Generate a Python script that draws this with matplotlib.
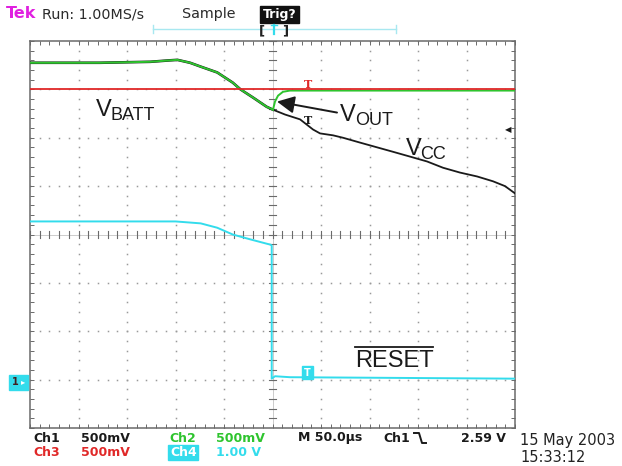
import matplotlib
matplotlib.use("Agg")
import matplotlib.pyplot as plt
import numpy as np
from matplotlib.lines import Line2D
from matplotlib.patches import Rectangle

# ---------------- data (time in µs, amplitude in screen divisions) -------------
t_pre = [-250, -178, -126, -106, -98, -85, -74, -57, -41, -33, -20, -6, 0.5]
v_pre = [3.55, 3.55, 3.57, 3.60, 3.61, 3.55, 3.47, 3.35, 3.14, 3.00, 2.83, 2.64, 2.58]

t_vcc = [0.5, 12.9, 28.4, 41.8, 49.0, 62.4, 72.7, 90.2, 124.2, 141.8, 159.3, 175.8,
         193.3, 210.9, 227.3, 239.7, 250]
v_vcc = [2.58, 2.48, 2.38, 2.17, 2.09, 2.05, 2.00, 1.90, 1.71, 1.61, 1.51, 1.38,
         1.28, 1.20, 1.10, 1.00, 0.85]

t_vout = [0.5, 2.6, 5.7, 10.8, 18, 250]
v_vout = [2.58, 2.75, 2.87, 2.95, 2.975, 2.975]

t_batt = [-250, 250]
v_batt = [3.0, 3.0]

t_reset = [-250, -100, -74, -57, -41, -23, -6, -2.0, -0.8, -0.8, 2.6, 18, 250]
v_reset = [0.27, 0.27, 0.23, 0.14, 0.0, -0.10, -0.19, -0.21, -0.23, -2.98, -2.93, -2.95, -2.98]

header_texts = ["Tek", "Run: 1.00MS/s", "Sample", "Trig?"]
ch_labels = ["Ch1", "Ch2", "Ch3", "Ch4"]
ch_scales = ["500mV", "500mV", "500mV", "1.00 V"]
timebase = "M 50.0\u00b5s"
trig_src = "Ch1"
trig_level = "2.59 V"
date_str = "15 May 2003"
time_str = "15:33:12"

C_GREEN = "#2ec42e"
C_RED = "#e02828"
C_CYAN = "#33dcec"
C_BLACK = "#1a1a1a"
C_FRAME = "#6a6a6a"

W, H = 622, 466
fig = plt.figure(figsize=(W / 100, H / 100), dpi=100)
fig.patch.set_facecolor("white")

L, R, T, B = 30, 515, 41, 428
ax = fig.add_axes([L / W, 1 - B / H, (R - L) / W, (B - T) / H])
ax.set_xlim(-250, 250)
ax.set_ylim(-4, 4)

def fx(x):
    return x / W

def fy(y):
    return 1 - y / H

# ---------------- graticule ----------------
for s in ax.spines.values():
    s.set_color(C_FRAME)
    s.set_linewidth(1.1)
ax.set_xticks(np.arange(-250, 251, 50))
ax.set_yticks(np.arange(-4, 4.01, 1))
ax.set_xticks(np.arange(-250, 251, 10), minor=True)
ax.set_yticks(np.arange(-4, 4.01, 0.2), minor=True)
ax.tick_params(which="both", direction="in", top=True, right=True,
               labelbottom=False, labelleft=False, length=3.2, width=0.7,
               color=C_FRAME)

minor_x = np.arange(-250, 251, 10)
minor_y = np.arange(-4, 4.01, 0.2)
for xv in np.arange(-200, 201, 50):
    if xv == 0:
        continue
    ax.plot(np.full_like(minor_y, xv), minor_y, ls="none", marker="s",
            ms=1.1, color="#9a9a9a", mec="none", zorder=1)
for yv in np.arange(-3, 3.01, 1):
    if yv == 0:
        continue
    ax.plot(minor_x, np.full_like(minor_x, yv, dtype=float), ls="none", marker="s",
            ms=1.1, color="#9a9a9a", mec="none", zorder=1)

# centre cross
ax.axhline(0, color="#b8b8b8", lw=0.5, zorder=1)
ax.axvline(0, color="#b8b8b8", lw=0.5, zorder=1)
for xv in minor_x:
    ax.plot([xv, xv], [-0.07, 0.07], color="#6a6a6a", lw=0.8, zorder=1)
for yv in minor_y:
    ax.plot([-3.6, 3.6], [yv, yv], color="#6a6a6a", lw=0.8, zorder=1)

# ---------------- traces ----------------
ax.plot(t_reset, v_reset, color=C_CYAN, lw=1.4, zorder=3)
ax.plot(t_pre, v_pre, color=C_BLACK, lw=1.9, zorder=3)
ax.plot(t_pre, v_pre, color=C_GREEN, lw=1.4, zorder=4)
ax.plot(t_vcc, v_vcc, color=C_BLACK, lw=1.3, zorder=3)
ax.plot(t_vout, v_vout, color=C_GREEN, lw=1.4, zorder=4)
ax.plot(t_batt, v_batt, color=C_RED, lw=1.3, zorder=5)

# waveform markers
fig.text(fx(308), fy(85), "T", color=C_RED, fontsize=8, fontweight="bold",
         ha="center", va="center", family="DejaVu Serif")
fig.text(fx(308), fy(121), "T", color=C_BLACK, fontsize=8, fontweight="bold",
         ha="center", va="center", family="DejaVu Serif")
fig.patches.append(Rectangle((fx(302), fy(379)), 11 / W, 13 / H, transform=fig.transFigure,
                             color=C_CYAN, zorder=6))
fig.text(fx(307.5), fy(372.5), "T", color="white", fontsize=7, fontweight="bold",
         ha="center", va="center", zorder=7)

# trigger level marker (right edge)
fig.text(fx(508), fy(130), "\u25c0", color=C_BLACK, fontsize=6, ha="center", va="center")

# Ch4 ground marker (left)
fig.patches.append(Rectangle((fx(9), fy(390)), 19 / W, 15 / H, transform=fig.transFigure,
                             color=C_CYAN, zorder=6))
fig.text(fx(15), fy(382), "1", color="#402020", fontsize=7, fontweight="bold",
         ha="center", va="center", zorder=7)
fig.text(fx(23), fy(382), "\u25b8", color="white", fontsize=6,
         ha="center", va="center", zorder=7)

# ---------------- annotations ----------------
lab = dict(family="Liberation Sans", color=C_BLACK)
fig.text(fx(96), fy(116), "V", fontsize=17, va="baseline", **lab)
fig.text(fx(110), fy(120), "BATT", fontsize=13, va="baseline", **lab)
fig.text(fx(340), fy(121), "V", fontsize=17, va="baseline", **lab)
fig.text(fx(355), fy(125), "OUT", fontsize=13, va="baseline", **lab)
fig.text(fx(406), fy(155), "V", fontsize=17, va="baseline", **lab)
fig.text(fx(420), fy(159), "CC", fontsize=13, va="baseline", **lab)
fig.text(fx(355), fy(367), "RESET", fontsize=17, va="baseline", **lab)
fig.add_artist(Line2D([fx(355), fx(433)], [fy(347), fy(347)], color=C_BLACK, lw=1.3,
                      transform=fig.transFigure))

ax.annotate("", xy=((277 - 272.5) * 1.031, (235 - 102) / 48.4),
            xytext=((337 - 272.5) * 1.031, (235 - 113) / 48.4),
            arrowprops=dict(arrowstyle="-|>,head_length=0.7,head_width=0.35",
                            mutation_scale=15, color=C_BLACK, lw=1.4,
                            shrinkA=0, shrinkB=0), zorder=6)

# ---------------- header ----------------
hdr = dict(family="DejaVu Sans", va="center")
fig.text(fx(6), fy(13.5), header_texts[0], color="#e020e0", fontsize=11.5,
         fontweight="bold", **hdr)
fig.text(fx(42), fy(14), header_texts[1], color="#2a2a2a", fontsize=10.3, **hdr)
fig.text(fx(182), fy(14), header_texts[2], color="#2a2a2a", fontsize=10.3, **hdr)
fig.patches.append(Rectangle((fx(260), fy(23)), 39 / W, 17 / H, transform=fig.transFigure,
                             color="#111111"))
fig.text(fx(279.5), fy(14.5), header_texts[3], color="white", fontsize=9,
         fontweight="bold", ha="center", **hdr)

# horizontal position bar
fig.add_artist(Line2D([fx(153), fx(396)], [fy(29), fy(29)], color="#a8e8f0", lw=1.0,
                      transform=fig.transFigure))
for xx in (153, 396):
    fig.add_artist(Line2D([fx(xx), fx(xx)], [fy(25), fy(33)], color="#a8e8f0", lw=1.0,
                          transform=fig.transFigure))
fig.text(fx(262), fy(31), "[", color="#222222", fontsize=9.5, fontweight="bold",
         ha="center", va="center")
fig.text(fx(285), fy(31), "]", color="#222222", fontsize=9.5, fontweight="bold",
         ha="center", va="center")
fig.add_artist(Line2D([fx(274), fx(274)], [fy(25), fy(34)], color=C_CYAN, lw=1.6,
                      transform=fig.transFigure))
fig.add_artist(Line2D([fx(271), fx(277)], [fy(25), fy(25)], color=C_CYAN, lw=1.0,
                      transform=fig.transFigure))

# ---------------- footer ----------------
ft = dict(family="DejaVu Sans", fontsize=9, fontweight="bold", va="center")
fig.text(fx(33), fy(438), ch_labels[0], color=C_BLACK, **ft)
fig.text(fx(81), fy(438), ch_scales[0], color=C_BLACK, **ft)
fig.text(fx(169), fy(438), ch_labels[1], color=C_GREEN, **ft)
fig.text(fx(216), fy(438), ch_scales[1], color=C_GREEN, **ft)
fig.text(fx(33), fy(453), ch_labels[2], color=C_RED, **ft)
fig.text(fx(81), fy(453), ch_scales[2], color=C_RED, **ft)
fig.patches.append(Rectangle((fx(168), fy(460)), 30 / W, 15 / H, transform=fig.transFigure,
                             color=C_CYAN))
fig.text(fx(170), fy(453), ch_labels[3], color="white", **ft)
fig.text(fx(216), fy(453), ch_scales[3], color=C_CYAN, **ft)
fig.text(fx(298), fy(438), timebase, color=C_BLACK, **ft)
fig.text(fx(383), fy(438), trig_src, color=C_BLACK, **ft)
fig.add_artist(Line2D([fx(414), fx(419), fx(422), fx(426)],
                      [fy(433), fy(433), fy(443), fy(443)], color=C_BLACK, lw=1.4,
                      transform=fig.transFigure))
fig.text(fx(461), fy(438), trig_level, color=C_BLACK, **ft)

fig.text(fx(520), fy(440), date_str, color="#222222", fontsize=10.5, va="center",
         family="DejaVu Sans")
fig.text(fx(520), fy(457), time_str, color="#222222", fontsize=10.5, va="center",
         family="DejaVu Sans")

fig.savefig("out.png", dpi=100, facecolor="white")
